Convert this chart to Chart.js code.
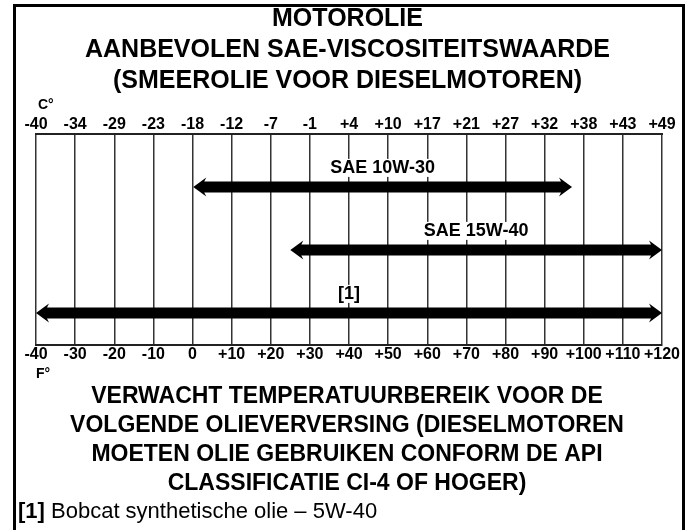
<!DOCTYPE html>
<html>
<head>
<meta charset="utf-8">
<script src="https://cdn.jsdelivr.net/npm/chart.js@4.4.1/dist/chart.umd.min.js"></script>
<style>
  html, body { margin: 0; padding: 0; background: #fff; }
  #wrap { width: 694px; height: 530px; position: relative; }
</style>
</head>
<body>
<div id="wrap"><canvas id="oilChart"></canvas></div>
<script>
// oil grades and their usable ranges in °F
const grades = ['SAE 10W-30', 'SAE 15W-40', '[1]'];
const lowF = [0, 25, -40];
const highF = [97, 120, 120];

const fahrenheitTicks = ['-40', '-30', '-20', '-10', '0', '+10', '+20', '+30', '+40', '+50', '+60', '+70', '+80', '+90', '+100', '+110', '+120'];
const celsiusTicks = ['-40', '-34', '-29', '-23', '-18', '-12', '-7', '-1', '+4', '+10', '+17', '+21', '+27', '+32', '+38', '+43', '+49'];

const titleLines = ['MOTOROLIE', 'AANBEVOLEN SAE-VISCOSITEITSWAARDE', '(SMEEROLIE VOOR DIESELMOTOREN)'];
const noteLines = ['VERWACHT TEMPERATUURBEREIK VOOR DE', 'VOLGENDE OLIEVERVERSING (DIESELMOTOREN', 'MOETEN OLIE GEBRUIKEN CONFORM DE API', 'CLASSIFICATIE CI-4 OF HOGER)'];
const footnote = ['[1]', ' Bobcat synthetische olie \u2013 5W-40'];

const FONT = '"Liberation Sans", Arial, sans-serif';

function drawArrow(ctx, x0, x1, y) {
    const shaft = 5.5, head = 9.5, len = 13, notch = 2;
    ctx.beginPath();
    ctx.moveTo(x0, y);
    ctx.lineTo(x0 + len, y - head);
    ctx.lineTo(x0 + len - notch, y - shaft);
    ctx.lineTo(x1 - len + notch, y - shaft);
    ctx.lineTo(x1 - len, y - head);
    ctx.lineTo(x1, y);
    ctx.lineTo(x1 - len, y + head);
    ctx.lineTo(x1 - len + notch, y + shaft);
    ctx.lineTo(x0 + len - notch, y + shaft);
    ctx.lineTo(x0 + len, y + head);
    ctx.closePath();
    ctx.fill();
}

// white page + thick outer frame
const framePlugin = {
    id: 'frame',
    beforeDraw(chart) {
        const ctx = chart.ctx;
        ctx.save();
        ctx.fillStyle = '#fff';
        ctx.fillRect(0, 0, chart.width, chart.height);
        ctx.strokeStyle = '#000';
        ctx.lineWidth = 3;
        ctx.beginPath();
        ctx.moveTo(14.5, chart.height + 2);
        ctx.lineTo(14.5, 5.5);
        ctx.lineTo(683.5, 5.5);
        ctx.lineTo(683.5, chart.height + 2);
        ctx.stroke();
        ctx.restore();
    },
    afterDraw(chart) {
        const ctx = chart.ctx;
        ctx.save();
        ctx.fillStyle = '#000';
        ctx.textBaseline = 'middle';
        ctx.textAlign = 'center';
        ctx.font = 'bold 25px ' + FONT;
        titleLines.forEach((t, i) => ctx.fillText(t, 347.5, 19 + i * 31));
        ctx.font = 'bold 23px ' + FONT;
        noteLines.forEach((t, i) => ctx.fillText(t, 347, 397 + i * 29));

        ctx.textAlign = 'left';
        ctx.font = 'bold 14px ' + FONT;
        ctx.fillText('C\u00b0', 38, 105);
        ctx.fillText('F\u00b0', 36, 374);

        ctx.font = 'bold 22px ' + FONT;
        ctx.fillText(footnote[0], 18, 512);
        const w = ctx.measureText(footnote[0]).width;
        ctx.font = '22px ' + FONT;
        ctx.fillText(footnote[1], 18 + w, 512);
        ctx.restore();
    }
};

// double headed arrows with their grade names
const arrowPlugin = {
    id: 'arrows',
    afterDatasetsDraw(chart) {
        const ctx = chart.ctx;
        const meta = chart.getDatasetMeta(0);
        ctx.save();
        meta.data.forEach((bar, i) => {
            const left = Math.min(bar.x, bar.base);
            const right = Math.max(bar.x, bar.base);
            const y = bar.y;
            const cx = (left + right) / 2;
            const ly = y - 19;
            ctx.font = 'bold 18px ' + FONT;
            ctx.textAlign = 'center';
            ctx.textBaseline = 'middle';
            const w = ctx.measureText(grades[i]).width;
            ctx.fillStyle = '#fff';
            ctx.fillRect(cx - w / 2 - 3, ly - 9, w + 6, 18);
            ctx.fillStyle = '#000';
            ctx.fillText(grades[i], cx, ly);
            drawArrow(ctx, left, right, y);
        });
        ctx.restore();
    }
};

const tickFont = { family: FONT, size: 16, weight: 'bold' };

const ctx = document.getElementById('oilChart').getContext('2d');
const oilChart = new Chart(ctx, {
    type: 'bar',
    data: {
        datasets: [{
            data: grades.map((g, i) => ({ x: [lowF[i], highF[i]], y: i + 1 })),
            backgroundColor: 'rgba(0,0,0,0)',
            borderWidth: 0
        }]
    },
    options: {
        indexAxis: 'y',
        responsive: true,
        maintainAspectRatio: false,
        animation: false,
        layout: { padding: { left: 36, right: 32, top: 114, bottom: 165 } },
        plugins: {
            legend: { display: false },
            tooltip: { enabled: false }
        },
        scales: {
            x: {
                type: 'linear',
                position: 'bottom',
                min: -40,
                max: 120,
                ticks: {
                    stepSize: 10,
                    autoSkip: false,
                    maxRotation: 0,
                    padding: 0,
                    color: '#000',
                    font: tickFont,
                    callback: (v, i) => fahrenheitTicks[i]
                },
                grid: { color: '#333', lineWidth: 1.5, drawTicks: false },
                border: { color: '#222', width: 2 },
                afterFit(scale) { scale.height = 20; }
            },
            xTop: {
                type: 'linear',
                position: 'top',
                min: -40,
                max: 120,
                ticks: {
                    stepSize: 10,
                    autoSkip: false,
                    maxRotation: 0,
                    padding: 0,
                    color: '#000',
                    font: tickFont,
                    callback: (v, i) => celsiusTicks[i]
                },
                grid: { display: false, drawTicks: false },
                border: { color: '#222', width: 2 },
                afterFit(scale) { scale.height = 20; }
            },
            y: {
                type: 'linear',
                reverse: true,
                offset: false,
                min: 0.16,
                max: 3.51,
                display: false
            }
        }
    },
    plugins: [framePlugin, arrowPlugin]
});
</script>
</body>
</html>
